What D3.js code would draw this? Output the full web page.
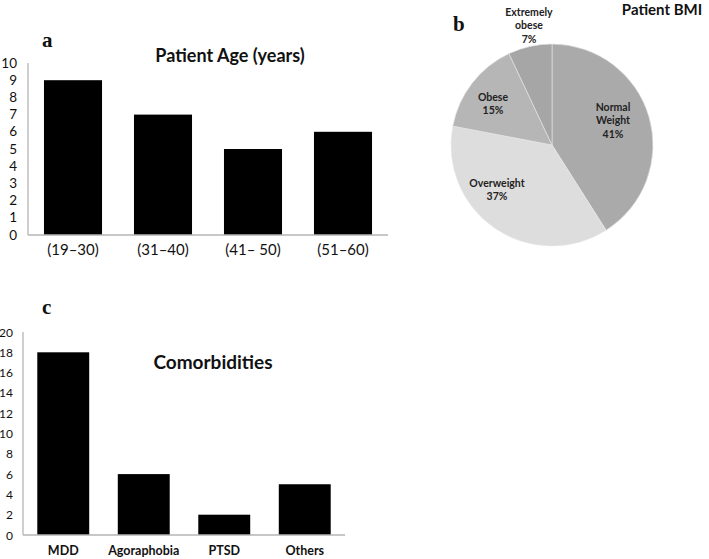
<!DOCTYPE html>
<html>
<head>
<meta charset="utf-8">
<script src="https://cdn.jsdelivr.net/npm/d3@7"></script>
<style>
body { margin: 0; background: #fff; }
</style>
</head>
<body>
<script>
// panel a
var ageCats = ["(19\u201330)", "(31\u201340)", "(41\u2013 50)", "(51\u201360)"];
var ageVals = [9, 7, 5, 6];
var ageTicks = [0, 1, 2, 3, 4, 5, 6, 7, 8, 9, 10];
// panel b
var bmiCats = ["Normal Weight", "Overweight", "Obese", "Extremely obese"];
var bmiVals = [41, 37, 15, 7];
// panel c
var comCats = ["MDD", "Agoraphobia", "PTSD", "Others"];
var comVals = [18, 6, 2, 5];
var comTicks = [0, 2, 4, 6, 8, 10, 12, 14, 16, 18, 20];

var sans = "Lato, 'Open Sans', sans-serif";
var serif = "'Liberation Serif', 'DejaVu Serif', serif";

var svg = d3.select("body").append("svg")
	.attr("width", 709)
	.attr("height", 559)
	.style("font-family", sans);

function barPanel(cfg) {
	var x = d3.scaleBand().domain(cfg.cats).range([cfg.x0, cfg.x1]).paddingInner(cfg.pad).paddingOuter(cfg.pad / 2);
	var y = d3.scaleLinear().domain([0, cfg.max]).range([cfg.y0, cfg.y1]);
	var g = svg.append("g");

	g.selectAll("rect").data(cfg.vals).enter().append("rect")
		.attr("x", function(d, i) { return x(cfg.cats[i]); })
		.attr("y", function(d) { return y(d); })
		.attr("width", x.bandwidth())
		.attr("height", function(d) { return y(0) - y(d); })
		.attr("fill", "#000");

	// axis lines
	g.append("line").attr("x1", cfg.x0).attr("x2", cfg.x0).attr("y1", y(cfg.max)).attr("y2", y(0))
		.attr("stroke", "#b5b5b5").attr("stroke-width", 1.3);
	g.append("line").attr("x1", cfg.x0).attr("x2", cfg.x1).attr("y1", y(0)).attr("y2", y(0))
		.attr("stroke", "#b5b5b5").attr("stroke-width", 1.3);

	g.selectAll(".yt").data(cfg.ticks).enter().append("text")
		.attr("x", cfg.tickX)
		.attr("y", function(d) { return y(d) + 4.5; })
		.attr("text-anchor", "end")
		.attr("font-size", cfg.tickSize)
		.attr("fill", "#111")
		.text(function(d) { return d; });

	g.selectAll(".xt").data(cfg.cats).enter().append("text")
		.attr("x", function(d) { return x(d) + x.bandwidth() / 2; })
		.attr("y", cfg.labY)
		.attr("text-anchor", "middle")
		.attr("font-size", cfg.labSize)
		.attr("font-weight", cfg.labWeight)
		.attr("fill", "#111")
		.text(function(d) { return d; });

	g.append("text").attr("x", cfg.titleX).attr("y", cfg.titleY)
		.attr("text-anchor", "middle").attr("font-size", cfg.titleSize).attr("font-weight", "bold")
		.attr("fill", "#111").text(cfg.title);
}

barPanel({
	cats: ageCats, vals: ageVals, ticks: ageTicks, max: 10,
	x0: 28, x1: 388, y0: 235, y1: 63, pad: 0.355,
	tickX: 17, tickSize: 13.5, labY: 255, labSize: 15, labWeight: "normal",
	title: "Patient Age (years)", titleX: 230, titleY: 62, titleSize: 18
});

barPanel({
	cats: comCats, vals: comVals, ticks: comTicks, max: 20,
	x0: 23, x1: 345, y0: 535, y1: 332, pad: 0.355,
	tickX: 13, tickSize: 12, labY: 555, labSize: 12.5, labWeight: "bold",
	title: "Comorbidities", titleX: 213, titleY: 369, titleSize: 19
});

// panel letters
var letters = [["a", 42, 47], ["b", 453, 31], ["c", 42, 314]];
letters.forEach(function(l) {
	svg.append("text").attr("x", l[1]).attr("y", l[2]).style("font-family", serif)
		.attr("font-size", 21).attr("font-weight", "bold").attr("fill", "#111").text(l[0]);
});

// pie
var cx = 552, cy = 145, r = 101;
var defs = svg.append("defs");
var grads = [["#aaaaaa", "#747474"], ["#dddddd", "#cacaca"], ["#b6b6b6", "#979797"], ["#a6a6a6", "#858585"]];
grads.forEach(function(c, i) {
	var lg = defs.append("radialGradient").attr("id", "pg" + i)
		.attr("gradientUnits", "userSpaceOnUse").attr("cx", cx).attr("cy", cy).attr("r", r);
	lg.append("stop").attr("offset", "0%").attr("stop-color", c[1]);
	lg.append("stop").attr("offset", "100%").attr("stop-color", c[0]);
});

var pie = d3.pie().sort(null).value(function(d) { return d; });
var arc = d3.arc().innerRadius(0).outerRadius(r);
var pg = svg.append("g").attr("transform", "translate(" + cx + "," + cy + ")");
pg.selectAll("path").data(pie(bmiVals)).enter().append("path")
	.attr("d", arc)
	.attr("fill", function(d, i) { return "url(#pg" + i + ")"; })
	.attr("stroke", "#e8e8e8").attr("stroke-width", 0.6);

var pieLab = [
	{ lines: ["Normal", "Weight", "41%"], x: 613, y: 111 },
	{ lines: ["Overweight", "37%"], x: 497, y: 187 },
	{ lines: ["Obese", "15%"], x: 493, y: 101 },
	{ lines: ["Extremely", "obese", "7%"], x: 529, y: 16 }
];
pieLab.forEach(function(p) {
	var t = svg.append("text").attr("text-anchor", "middle").attr("font-size", 10.5).attr("font-weight", "bold").attr("fill", "#222");
	p.lines.forEach(function(l, k) {
		t.append("tspan").attr("x", p.x).attr("y", p.y + k * 13.3).text(l);
	});
});
svg.append("text").attr("x", 662).attr("y", 15).attr("text-anchor", "middle")
	.attr("font-size", 15).attr("font-weight", "bold").attr("fill", "#111").text("Patient BMI");
</script>
</body>
</html>
